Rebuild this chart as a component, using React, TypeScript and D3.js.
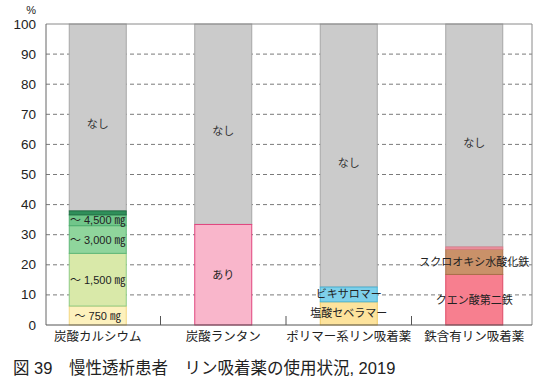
import * as d3 from "d3";

// categories along the x axis
const categories = ["炭酸カルシウム", "炭酸ランタン", "ポリマー系リン吸着薬", "鉄含有リン吸着薬"];

// stacked segment values (%) from the bottom up; the remainder to 100 is "なし"
const calciumValues = [6.3, 17.5, 9.2, 3.6, 1.3];
const calciumLabels = ["～ 750 ㎎", "～ 1,500 ㎎", "～ 3,000 ㎎", "～ 4,500 ㎎", ""];
const lanthanumValues = [33.4];
const lanthanumLabels = ["あり"];
const polymerValues = [7.7, 4.9];
const polymerLabels = ["塩酸セベラマー", "ビキサロマー"];
const ironValues = [16.8, 8.4, 0.7];
const ironLabels = ["クエン酸第二鉄", "スクロオキシ水酸化鉄", ""];
const noneLabel = "なし";

const yTicks = [0, 10, 20, 30, 40, 50, 60, 70, 80, 90, 100];
const title = "図 39　慢性透析患者　リン吸着薬の使用状況,  2019";

const seriesValues = [calciumValues, lanthanumValues, polymerValues, ironValues];
const seriesLabels = [calciumLabels, lanthanumLabels, polymerLabels, ironLabels];

// fill / stroke per segment
const fills = [
  ["#fdf1bd", "#d9e9a9", "#8fd59c", "#71c68a", "#2f8f5a"],
  ["#f9b6cb"],
  ["#fde39c", "#7ed0ea"],
  ["#f77f8f", "#c99169", "#ef9aa6"],
];
const strokes = [
  ["#f3d680", "#8fcc85", "#5fb878", "#4fae70", "#1f6e43"],
  ["#e0457e"],
  ["#f0c860", "#4ab5d6"],
  ["#dd4a66", "#a87048", "#e07a8a"],
];
const noneFill = "#cbcbcb";
const noneStroke = "#a6a6a6";

const W = 554;
const H = 387;
const left = 46;
const right = 532;
const top = 24;
const bottom = 325;
const barW = 57;
const FONT = "'Liberation Sans', 'Noto Sans CJK JP', sans-serif";
const JFONT = "'Noto Sans CJK JP', 'Liberation Sans', sans-serif";

export default function App() {
  const x = d3.scaleBand<string>().domain(categories).range([35, 537]).padding(0);
  const y = d3.scaleLinear().domain([0, 100]).range([bottom, top]);

  const bars = categories.map((cat, ci) => {
    const vals = seriesValues[ci];
    const cum = d3.cumsum(vals);
    const total = cum[cum.length - 1];
    const cx = (x(cat) as number) + x.bandwidth() / 2;
    const x0 = cx - barW / 2;
    const segs = vals.map((v, i) => {
      const y0 = i === 0 ? 0 : cum[i - 1];
      const y1 = cum[i];
      return { y0, y1, fill: fills[ci][i], stroke: strokes[ci][i], label: seriesLabels[ci][i] };
    });
    return { cat, cx, x0, segs, total };
  });

  return (
    <svg width={W} height={H} style={{ position: "absolute", left: 0, top: 0 }}>
      <rect width={W} height={H} fill="#fff" />
      {/* grid */}
      {yTicks
        .filter((t) => t > 0 && t < 100)
        .map((t) => (
          <line key={t} x1={left} x2={right} y1={y(t)} y2={y(t)} stroke="#7a7a7a" strokeDasharray="4,3" strokeWidth={1} />
        ))}
      {/* bars */}
      {bars.map((b) => (
        <g key={b.cat}>
          <rect x={b.x0} y={y(100)} width={barW} height={y(b.total) - y(100)} fill={noneFill} stroke={noneStroke} strokeWidth={1} />
          {b.segs.map((s, i) => (
            <rect key={i} x={b.x0} y={y(s.y1)} width={barW} height={y(s.y0) - y(s.y1)} fill={s.fill} stroke={s.stroke} strokeWidth={1} />
          ))}
          <text x={b.cx} y={y((b.total + 100) / 2 - 2)} textAnchor="middle" dominantBaseline="central" fontFamily={JFONT} fontSize={11} fill="#333">
            {noneLabel}
          </text>
          {b.segs.map((s, i) =>
            s.label ? (
              <text key={"l" + i} x={b.cx} y={y((s.y0 + s.y1) / 2)} textAnchor="middle" dominantBaseline="central" fontFamily={FONT} fontSize={11} fill="#222">
                {s.label}
              </text>
            ) : null
          )}
        </g>
      ))}
      {/* frame */}
      <line x1={left} x2={right} y1={top} y2={top} stroke="#8a8a8a" />
      <line x1={right} x2={right} y1={top} y2={bottom} stroke="#8a8a8a" />
      <line x1={left} x2={left} y1={top} y2={bottom} stroke="#666" />
      <line x1={left} x2={right} y1={bottom} y2={bottom} stroke="#555" />
      {/* category separators */}
      {categories.slice(1).map((c) => (
        <line key={c} x1={x(c) as number} x2={x(c) as number} y1={bottom - 9} y2={bottom} stroke="#555" />
      ))}
      {/* y ticks */}
      {yTicks.map((t) => (
        <text key={t} x={36} y={y(t)} textAnchor="end" dominantBaseline="central" fontFamily={FONT} fontSize={13.5} fill="#222">
          {t}
        </text>
      ))}
      <text x={36} y={10} textAnchor="end" dominantBaseline="central" fontFamily={FONT} fontSize={11} fill="#222">
        %
      </text>
      {/* x labels */}
      {categories.map((c) => (
        <text key={c} x={(x(c) as number) + x.bandwidth() / 2} y={335} textAnchor="middle" dominantBaseline="central" fontFamily={JFONT} fontSize={12.5} fill="#222">
          {c}
        </text>
      ))}
      <text x={13} y={368} dominantBaseline="central" fontFamily={FONT} fontSize={16.5} fill="#222">
        {title}
      </text>
    </svg>
  );
}
